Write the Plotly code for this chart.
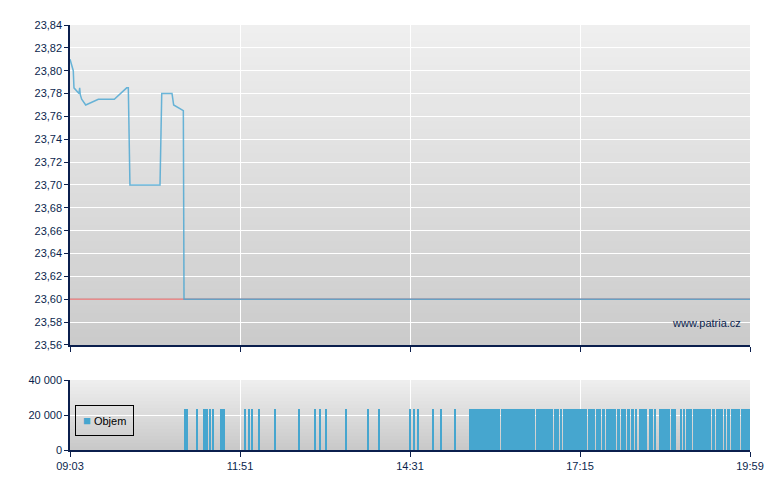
import plotly.graph_objects as go
from datetime import datetime

DAY = "2024-01-02"

# ---- price series (time, price) ----
price_times = ["09:03:00", "09:06:10", "09:06:50", "09:11:40", "09:12:20", "09:12:55",
               "09:14:15", "09:18:10", "09:30:20", "09:45:45", "09:57:40", "09:59:15",
               "10:00:50", "10:29:50", "10:31:30", "10:41:25", "10:43:00", "10:52:20",
               "10:53:00", "19:59:00"]
price_values = [23.81, 23.80, 23.785, 23.78, 23.785, 23.779,
                23.775, 23.77, 23.775, 23.775, 23.785, 23.785,
                23.70, 23.70, 23.78, 23.78, 23.77, 23.765,
                23.60, 23.60]
prev_close = 23.60

# ---- volume runs (start minute, end minute inclusive) ----
vol_start = ["10:53", "10:55", "11:05", "11:11", "11:15", "11:17", "11:20", "11:28", "11:51",
             "11:55", "11:58", "12:05", "12:20", "12:43", "12:58", "13:04", "13:09", "13:29",
             "13:50", "14:01", "14:30", "14:34", "14:38", "14:53", "15:00", "15:14", "15:28",
             "15:30", "15:32",
             "15:34", "15:59", "16:33", "16:50", "16:56", "16:59", "17:23", "17:30", "17:36",
             "17:40", "17:51", "17:55", "17:58", "18:00", "18:04", "18:08", "18:12", "18:22",
             "18:27", "18:31", "18:43", "18:51", "18:54", "18:57", "19:04", "19:22", "19:26",
             "19:34", "19:37", "19:41", "19:50"]
vol_end = ["10:53", "10:55", "11:05", "11:13", "11:15", "11:18", "11:20", "11:32", "11:51",
           "11:56", "11:58", "12:05", "12:20", "12:43", "12:59", "13:04", "13:09", "13:29",
           "13:50", "14:01", "14:31", "14:34", "14:39", "14:53", "15:00", "15:14", "15:28",
           "15:30", "15:32",
           "15:57", "16:31", "16:48", "16:54", "16:57", "17:21", "17:28", "17:34", "17:38",
           "17:49", "17:53", "17:56", "17:58", "18:02", "18:06", "18:09", "18:19", "18:24",
           "18:27", "18:41", "18:47", "18:52", "18:55", "19:02", "19:20", "19:24", "19:32",
           "19:35", "19:39", "19:48", "19:58"]
vol_values = [23300] * len(vol_start)

# ---- axis ticks ----
x_start, x_end = "09:03", "19:59"
tick_times = ["09:03", "11:47", "14:31", "17:15", "19:59"]
tick_labels = ["09:03", "11:51", "14:31", "17:15", "19:59"]
price_ticks = [23.56, 23.58, 23.60, 23.62, 23.64, 23.66, 23.68, 23.70, 23.72, 23.74,
               23.76, 23.78, 23.80, 23.82, 23.84]
vol_ticks = [0, 20000, 40000]
legend_label = "Objem"
watermark = "www.patria.cz"


def ts(t):
    return f"{DAY} {t}:00" if len(t) == 5 else f"{DAY} {t}"


def parse(t):
    return datetime.strptime(ts(t), "%Y-%m-%d %H:%M:%S")


NAVY = "#0b1f4d"
BLUE = "#46a6cf"
FONT = "Arial, Liberation Sans, sans-serif"

vol_x = [ts(s) for s in vol_start]
vol_w = [((parse(e) - parse(s)).total_seconds() + 60) * 1000 for s, e in zip(vol_start, vol_end)]

fig = go.Figure()

# previous close reference line
fig.add_trace(go.Scatter(
    x=[ts(x_start), ts(x_end)], y=[prev_close, prev_close], mode="lines",
    line=dict(color="rgba(222,90,90,0.7)", width=1.5),
    xaxis="x", yaxis="y", showlegend=False, hoverinfo="skip"))

fig.add_trace(go.Scatter(
    x=[ts(t) for t in price_times], y=price_values, mode="lines",
    line=dict(color="rgba(70,165,210,0.8)", width=1.5),
    xaxis="x", yaxis="y", showlegend=False, hoverinfo="skip"))

fig.add_trace(go.Bar(
    x=vol_x, y=vol_values, width=vol_w, offset=0, name=legend_label,
    marker=dict(color=BLUE, line=dict(width=0)),
    xaxis="x2", yaxis="y2", showlegend=False))

# gradient backgrounds
def gradient(xref, yref, top, bottom, n=40):
    for i in range(n):
        f = (i + 0.5) / n
        c = [round(top[k] + (bottom[k] - top[k]) * f) for k in range(3)]
        fig.add_shape(type="rect", xref=xref, yref=yref, x0=0, x1=1,
                      y0=max(0, 1 - (i + 1) / n - 0.015), y1=1 - i / n,
                      fillcolor=f"rgb({c[0]},{c[1]},{c[2]})",
                      line=dict(width=0), layer="below")

gradient("x domain", "y domain", (239, 239, 239), (203, 203, 203))
gradient("x2 domain", "y2 domain", (239, 239, 239), (200, 200, 200), n=20)

axis_common = dict(
    showline=True, linecolor=NAVY, linewidth=1.5,
    ticks="outside", tickcolor=NAVY, ticklen=5, tickwidth=1,
    gridcolor="white", gridwidth=1, zeroline=False,
    tickfont=dict(family=FONT, size=11, color=NAVY),
)

xrange = [ts(x_start), ts(x_end)]
fig.update_layout(
    width=780, height=490,
    margin=dict(l=62, r=38, t=17, b=48, autoexpand=False),
    paper_bgcolor="white", plot_bgcolor="rgba(0,0,0,0)",
    separators=", ",
    font=dict(family=FONT, size=11, color=NAVY),
    bargap=0,
    showlegend=False,
    xaxis=dict(axis_common, domain=[0, 1], anchor="y", range=xrange, type="date",
               tickmode="array", tickvals=[ts(t) for t in tick_times],
               ticktext=tick_labels, showticklabels=False, showgrid=True),
    yaxis=dict(axis_common, domain=[0.2471, 1], anchor="x", range=[23.56, 23.84],
               tickmode="array", tickvals=price_ticks, tickformat=".2f", ticklen=4),
    xaxis2=dict(axis_common, domain=[0, 1], anchor="y2", range=xrange, type="date",
                matches="x",
                tickmode="array", tickvals=[ts(t) for t in tick_times],
                ticktext=tick_labels, showgrid=True),
    yaxis2=dict(axis_common, domain=[0, 0.1647], anchor="x2", range=[0, 40000],
                tickmode="array", tickvals=vol_ticks, tickformat=",d", ticklen=4),
    annotations=[
        dict(text=watermark, xref="x domain", yref="y",
             x=0.99, y=23.5795, xanchor="right", yanchor="middle",
             showarrow=False, font=dict(family=FONT, size=11, color=NAVY)),
        dict(text=f'<span style="color:{BLUE};font-size:13px">■</span> {legend_label}',
             xref="x2 domain", yref="y2 domain", x=0.0074, y=0.643,
             xanchor="left", yanchor="top", showarrow=False, align="left",
             bordercolor="black", borderwidth=1, borderpad=7,
             font=dict(family=FONT, size=11, color="black")),
    ],
)

fig.write_html("out.html")
